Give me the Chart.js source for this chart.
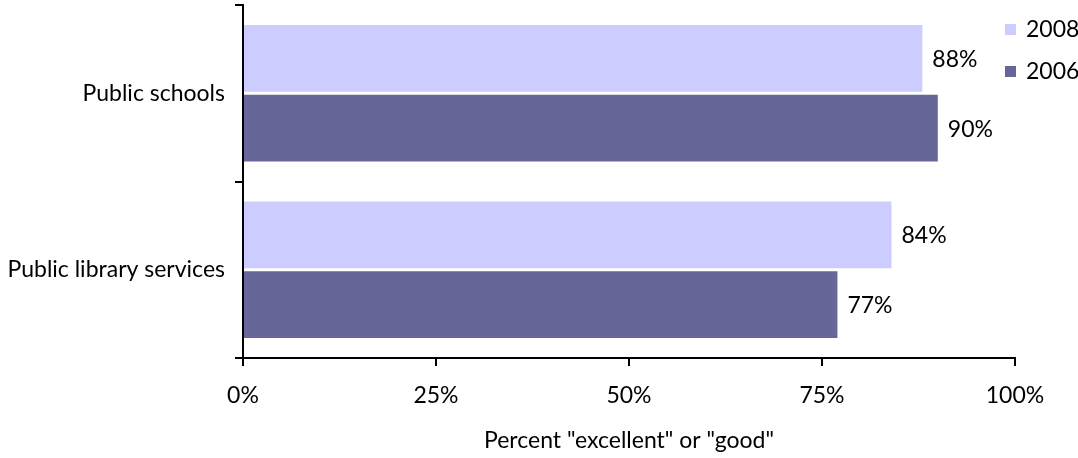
<!DOCTYPE html>
<html>
<head>
<meta charset="utf-8">
<script src="https://cdn.jsdelivr.net/npm/chart.js@4"></script>
<style>
    html, body { margin: 0; padding: 0; background: #fff; }
    #wrap { width: 1078px; height: 458px; }
</style>
</head>
<body>
<div id="wrap"><canvas id="chart"></canvas></div>
<script>
const categories = ['Public schools', 'Public library services'];
const values2008 = [88, 84];
const values2006 = [90, 77];
const xTicks = [0, 25, 50, 75, 100];

const FONT = 'Lato';
const SIZE = 23;

// Draw value labels at the end of each bar
const valueLabels = {
    id: 'valueLabels',
    afterDatasetsDraw(chart) {
        const ctx = chart.ctx;
        ctx.save();
        ctx.font = SIZE + 'px ' + FONT;
        ctx.fillStyle = '#000';
        ctx.textBaseline = 'middle';
        ctx.textAlign = 'left';
        chart.data.datasets.forEach((ds, i) => {
            chart.getDatasetMeta(i).data.forEach((bar, j) => {
                ctx.fillText(ds.data[j] + '%', bar.x + 10, bar.y + 1);
            });
        });
        ctx.restore();
    }
};

// Small square legend in the top right corner
const cornerLegend = {
    id: 'cornerLegend',
    afterDraw(chart) {
        const ctx = chart.ctx;
        ctx.save();
        ctx.font = SIZE + 'px ' + FONT;
        ctx.textBaseline = 'middle';
        chart.data.datasets.forEach((ds, i) => {
            const y = 29 + i * 42;
            ctx.fillStyle = ds.backgroundColor;
            ctx.fillRect(1005, y - 5, 11, 11);
            ctx.fillStyle = '#000';
            ctx.fillText(ds.label, 1026, y + 1);
        });
        ctx.restore();
    }
};

const chart = document.querySelector('#chart').getContext('2d');

new Chart(chart, {
    type: 'bar',
    data: {
        labels: categories,
        datasets: [{
                label: '2008',
                data: values2008,
                backgroundColor: '#CCCCFF',
            },
            {
                label: '2006',
                data: values2006,
                backgroundColor: '#666699',
            }
        ],
    },
    options: {
        indexAxis: 'y',
        responsive: true,
        maintainAspectRatio: false,
        animation: false,
        layout: {
            padding: { top: 5, right: 63, left: 0, bottom: 0 }
        },
        datasets: {
            bar: {
                categoryPercentage: 0.79,
                barPercentage: 0.96,
            }
        },
        plugins: {
            legend: { display: false },
            tooltip: { enabled: false },
        },
        scales: {
            x: {
                min: 0,
                max: 100,
                afterBuildTicks: (s) => { s.ticks = xTicks.map(v => ({ value: v })); },
                afterFit: (s) => { s.height = 100; s.paddingLeft = 0; s.paddingRight = 0; },
                border: { display: true, color: '#000', width: 2 },
                grid: { drawOnChartArea: false, drawTicks: true, tickLength: 8, color: '#000', lineWidth: 2 },
                ticks: {
                    color: '#000',
                    padding: 16,
                    font: { family: FONT, size: SIZE },
                    callback: (v) => v + '%',
                },
                title: {
                    display: true,
                    text: 'Percent "excellent" or "good"',
                    color: '#000',
                    font: { family: FONT, size: SIZE },
                    padding: { top: 14 },
                }
            },
            y: {
                afterFit: (s) => { s.width = 243; s.paddingTop = 0; s.paddingBottom = 0; },
                border: { display: true, color: '#000', width: 2 },
                grid: { offset: true, drawOnChartArea: false, drawTicks: true, tickLength: 8, color: '#000', lineWidth: 2 },
                ticks: {
                    color: '#000',
                    padding: 10,
                    font: { family: FONT, size: SIZE },
                }
            }
        }
    },
    plugins: [valueLabels, cornerLegend]
});
</script>
</body>
</html>
